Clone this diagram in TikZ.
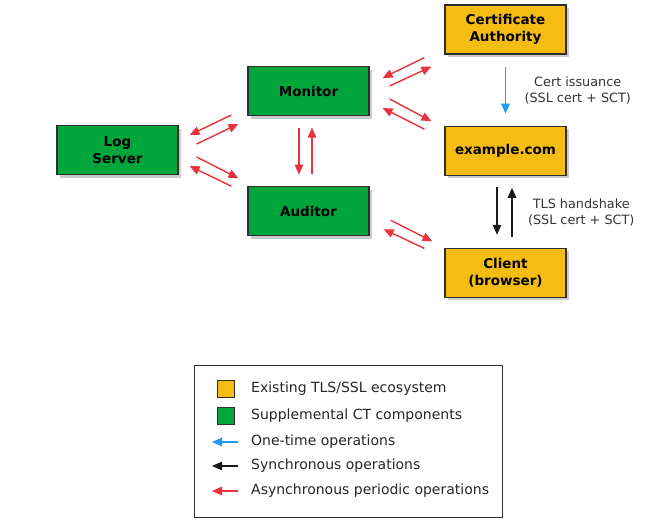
\documentclass[tikz,border=0pt]{standalone}
\usepackage{fontspec}
\setmainfont{DejaVu Sans}
\usetikzlibrary{shapes, arrows.meta, positioning, calc, shadows}
\definecolor{tlsyellow}{HTML}{F5BD14}
\definecolor{ctgreen}{HTML}{00A53B}
\definecolor{asyncred}{HTML}{E8323C}
\definecolor{onceblue}{HTML}{1E9BF5}
\definecolor{boxedge}{HTML}{2E2E2E}
\tikzstyle{block} = [rectangle, draw=boxedge, line width=1.2pt, fill=ctgreen, align=center, minimum width=121pt, minimum height=49pt, font=\fontsize{13.5}{16.5}\selectfont\bfseries, drop shadow={shadow xshift=2.5pt, shadow yshift=-3pt, opacity=.4}]
\tikzstyle{line} = [draw, line width=1.4pt, -{Triangle[length=10pt,width=8.5pt]}]
\tikzstyle{async} = [line, asyncred]
\tikzstyle{sync} = [line, black!90]
\tikzstyle{once} = [line, onceblue]
\tikzstyle{notetext} = [font=\fontsize{12.8}{16}\selectfont, align=center, text=black!80]
\tikzstyle{keytext} = [font=\fontsize{14}{17}\selectfont, anchor=west, inner sep=0pt, text=black!85]
\tikzstyle{swatch} = [rectangle, draw=boxedge, line width=1pt, minimum size=17pt, inner sep=0pt]

\begin{document}
\begin{tikzpicture}[x=1pt, y=1pt]
        \useasboundingbox (0,0) rectangle (649,-520);
        \node [block] (log) at (117.5,-150) {Log\\Server};
        \node [block] (monitor) at (308.5,-91) {Monitor};
        \node [block, below=70pt of monitor] (auditor) {Auditor};
        \node [block, fill=tlsyellow] (ca) at (505.5,-29.5) {Certificate\\Authority};
        \node [block, fill=tlsyellow, below=71pt of ca] (example) {example.com};
        \node [block, fill=tlsyellow, below=72pt of example] (client) {Client\\(browser)};

        % log server and monitor
        \path [async] ([shift={(-16pt,-24pt)}]monitor.west) -- ([shift={(11pt,15pt)}]log.east);
        \path [async] ([shift={(18pt,6pt)}]log.east) -- ([shift={(-9pt,-33pt)}]monitor.west);
        % log server and auditor
        \path [async] ([shift={(18pt,-7pt)}]log.east) -- ([shift={(-9pt,33pt)}]auditor.west);
        \path [async] ([shift={(-16pt,25pt)}]auditor.west) -- ([shift={(11pt,-16pt)}]log.east);
        % monitor and auditor
        \path [async] ([xshift=-9.5pt,yshift=-11.5pt]monitor.south) -- ([xshift=-9.5pt,yshift=11.5pt]auditor.north);
        \path [async] ([xshift=3.5pt,yshift=12pt]auditor.north) -- ([xshift=3.5pt,yshift=-11.5pt]monitor.south);
        % monitor and CA / example.com
        \path [async] ([shift={(-20pt,-3pt)}]ca.south west) -- ([shift={(13pt,13pt)}]monitor.east);
        \path [async] ([shift={(20pt,5pt)}]monitor.east) -- ([shift={(-13pt,-12pt)}]ca.south west);
        \path [async] ([shift={(20pt,-8pt)}]monitor.east) -- ([shift={(-13pt,29.5pt)}]example.west);
        \path [async] ([shift={(-20pt,21.5pt)}]example.west) -- ([shift={(13pt,-17pt)}]monitor.east);
        % auditor and client
        \path [async] ([shift={(21pt,-9pt)}]auditor.east) -- ([shift={(-12pt,31.5pt)}]client.west);
        \path [async] ([shift={(-20pt,24.5pt)}]client.west) -- ([shift={(14pt,-18pt)}]auditor.east);

        \path [once] ([yshift=-12pt]ca.south) -- node[notetext, right=15pt] {Cert issuance\\(SSL cert + SCT)} ([yshift=12pt]example.north);
        \path [sync] ([xshift=-8.5pt,yshift=-11pt]example.south) -- ([xshift=-8.5pt,yshift=13pt]client.north);
        \path [sync] ([xshift=6.5pt,yshift=11pt]client.north) -- node[notetext, right=12pt] {TLS handshake\\(SSL cert + SCT)} ([xshift=6.5pt,yshift=-12pt]example.south);

        % legend
        \draw [boxedge, line width=1pt] (194,-365) rectangle (502,-517);
        \node [swatch, fill=tlsyellow] (keyexist) at (225.5,-389) {};
        \node [swatch, fill=ctgreen] (keysupp) at (225.5,-415.5) {};
        \node [keytext] (txtexist) at (251,-389) {Existing TLS/SSL ecosystem};
        \node [keytext] (txtsupp) at (251,-416) {Supplemental CT components};
        \node [keytext] (txtonce) at (251,-442) {One-time operations};
        \node [keytext] (txtsync) at (251,-466) {Synchronous operations};
        \node [keytext] (txtasync) at (251,-491) {Asynchronous periodic operations};
        \path [once] ([xshift=-13pt]txtonce.west) -- ([xshift=-39pt]txtonce.west);
        \path [sync] ([xshift=-13pt]txtsync.west) -- ([xshift=-39pt]txtsync.west);
        \path [async] ([xshift=-13pt]txtasync.west) -- ([xshift=-39pt]txtasync.west);
    \end{tikzpicture}
\end{document}
